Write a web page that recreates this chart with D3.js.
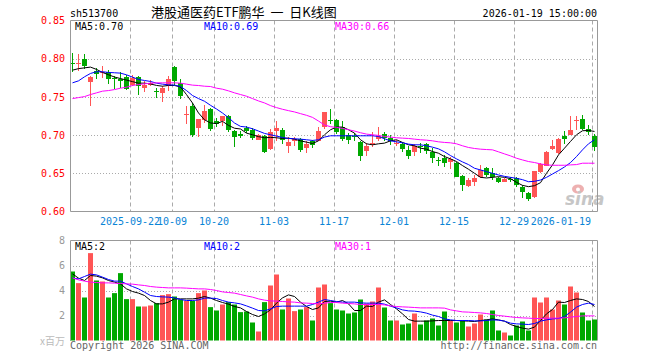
<!DOCTYPE html>
<meta charset="utf-8" />
<head>
  <script src="https://d3js.org/d3.v7.min.js"></script>
  <title>sh513700 K</title>
  <style>
    body {
      margin: 0;
      background: #fff;
    }
    text {
      font-family: "DejaVu Sans Mono", monospace;
      font-size: 10px;
    }
    .grid-h {
      stroke: #aaa;
      stroke-dasharray: 1, 2;
    }
    .grid-v {
      stroke: #aaa;
      stroke-dasharray: 4, 3;
    }
    .frame {
      fill: none;
      stroke: #999;
    }
  </style>
</head>
<body>
  <svg id="chart" width="660" height="360"></svg>
</body>

<script>
  const dates = [
    "2025-09-08", "2025-09-09", "2025-09-10", "2025-09-11", "2025-09-12",
    "2025-09-15", "2025-09-16", "2025-09-17", "2025-09-18", "2025-09-19",
    "2025-09-22", "2025-09-23", "2025-09-24", "2025-09-25", "2025-09-26",
    "2025-09-29", "2025-09-30", "2025-10-09", "2025-10-10", "2025-10-13",
    "2025-10-14", "2025-10-15", "2025-10-16", "2025-10-17", "2025-10-20",
    "2025-10-21", "2025-10-22", "2025-10-23", "2025-10-24", "2025-10-27",
    "2025-10-28", "2025-10-29", "2025-10-30", "2025-10-31", "2025-11-03",
    "2025-11-04", "2025-11-05", "2025-11-06", "2025-11-07", "2025-11-10",
    "2025-11-11", "2025-11-12", "2025-11-13", "2025-11-14", "2025-11-17",
    "2025-11-18", "2025-11-19", "2025-11-20", "2025-11-21", "2025-11-24",
    "2025-11-25", "2025-11-26", "2025-11-27", "2025-11-28", "2025-12-01",
    "2025-12-02", "2025-12-03", "2025-12-04", "2025-12-05", "2025-12-08",
    "2025-12-09", "2025-12-10", "2025-12-11", "2025-12-12", "2025-12-15",
    "2025-12-16", "2025-12-17", "2025-12-18", "2025-12-19", "2025-12-22",
    "2025-12-23", "2025-12-24", "2025-12-25", "2025-12-26", "2025-12-29",
    "2025-12-30", "2025-12-31", "2026-01-05", "2026-01-06", "2026-01-07",
    "2026-01-08", "2026-01-09", "2026-01-12", "2026-01-13", "2026-01-14",
    "2026-01-15", "2026-01-16", "2026-01-19",
  ];

  const open = [
    0.795, 0.793, 0.799, 0.770, 0.784, 0.7815, 0.783, 0.7745, 0.774, 0.776,
    0.766, 0.776, 0.761, 0.766, 0.758, 0.755, 0.764, 0.789, 0.768, 0.7275,
    0.738, 0.709, 0.720, 0.734, 0.719, 0.718, 0.7246, 0.7048, 0.7018, 0.7092,
    0.707, 0.6939, 0.699, 0.6816, 0.706, 0.707, 0.6851, 0.6917, 0.6947, 0.6829,
    0.6917, 0.6925, 0.710, 0.7202, 0.720, 0.7105, 0.6996, 0.6982, 0.6912, 0.6794,
    0.6898, 0.6952, 0.7018, 0.696, 0.689, 0.689, 0.6807, 0.6785, 0.6852, 0.6882,
    0.6785, 0.6669, 0.6697, 0.6645, 0.664, 0.6465, 0.6338, 0.639, 0.6456, 0.6566,
    0.6509, 0.6443, 0.639, 0.6423, 0.6434, 0.6325, 0.6246, 0.6193, 0.6513, 0.6601,
    0.6816, 0.6763, 0.6982, 0.7004, 0.718, 0.7215, 0.7079, 0.6991,
  ];
  const high = [
    0.808, 0.806, 0.806, 0.778, 0.788, 0.791, 0.785, 0.777, 0.783, 0.779,
    0.779, 0.777, 0.771, 0.772, 0.761, 0.764, 0.777, 0.791, 0.774, 0.738,
    0.742, 0.721, 0.739, 0.735, 0.723, 0.7254, 0.7268, 0.707, 0.7057, 0.712,
    0.709, 0.701, 0.7004, 0.7079, 0.718, 0.7088, 0.697, 0.6974, 0.696, 0.6917,
    0.6939, 0.710, 0.7307, 0.7346, 0.7215, 0.7189, 0.7026, 0.7026, 0.6925, 0.6895,
    0.704, 0.7105, 0.7044, 0.6996, 0.6939, 0.6912, 0.6851, 0.6882, 0.6895, 0.6895,
    0.6829, 0.671, 0.6741, 0.6719, 0.6654, 0.6478, 0.6434, 0.6478, 0.661, 0.6588,
    0.6566, 0.6456, 0.6434, 0.6456, 0.6456, 0.6346, 0.6259, 0.6531, 0.6632, 0.6794,
    0.6939, 0.696, 0.7048, 0.7254, 0.7254, 0.7259, 0.7136, 0.7018,
  ];
  const low = [
    0.783, 0.784, 0.786, 0.738, 0.773, 0.775, 0.767, 0.760, 0.762, 0.759,
    0.764, 0.753, 0.757, 0.764, 0.749, 0.743, 0.758, 0.766, 0.747, 0.714,
    0.697, 0.698, 0.716, 0.706, 0.710, 0.712, 0.7035, 0.685, 0.6956, 0.7026,
    0.694, 0.693, 0.6772, 0.6807, 0.6917, 0.6877, 0.6763, 0.686, 0.6785, 0.6772,
    0.6829, 0.6917, 0.7079, 0.7149, 0.7018, 0.6917, 0.6881, 0.6917, 0.6667, 0.6728,
    0.685, 0.6917, 0.6917, 0.6873, 0.686, 0.6785, 0.6689, 0.6728, 0.6763, 0.6754,
    0.664, 0.660, 0.6579, 0.6553, 0.6447, 0.6268, 0.6325, 0.6333, 0.6434, 0.6456,
    0.6412, 0.6377, 0.6382, 0.639, 0.6316, 0.6171, 0.6136, 0.618, 0.65, 0.6596,
    0.6807, 0.6754, 0.6886, 0.6996, 0.707, 0.707, 0.7004, 0.6798,
  ];
  const close = [
    0.794, 0.794, 0.790, 0.776, 0.780, 0.7825, 0.773, 0.774, 0.771, 0.760,
    0.775, 0.764, 0.766, 0.768, 0.757, 0.761, 0.774, 0.771, 0.751, 0.728,
    0.700, 0.721, 0.731, 0.708, 0.714, 0.7246, 0.707, 0.6969, 0.6982, 0.7048,
    0.6956, 0.6996, 0.678, 0.7044, 0.7088, 0.693, 0.6912, 0.6952, 0.6811, 0.689,
    0.6873, 0.7048, 0.7298, 0.720, 0.704, 0.6952, 0.693, 0.698, 0.6728, 0.686,
    0.690, 0.6982, 0.6956, 0.6917, 0.6899, 0.682, 0.6732, 0.6851, 0.685, 0.6794,
    0.6697, 0.6667, 0.6632, 0.6684, 0.6456, 0.6346, 0.6412, 0.6434, 0.6544, 0.6478,
    0.6447, 0.639, 0.6421, 0.6421, 0.6346, 0.625, 0.6162, 0.6531, 0.6618, 0.6785,
    0.6851, 0.6947, 0.6952, 0.7061, 0.7197, 0.7083, 0.7044, 0.6842,
  ];

  const ma5 = [
    0.785, 0.787, 0.788, 0.789, 0.786, 0.782, 0.779, 0.776, 0.774, 0.772,
    0.770, 0.768, 0.768, 0.767, 0.765, 0.764, 0.765, 0.765, 0.763, 0.753,
    0.742, 0.729, 0.720, 0.716, 0.715, 0.718, 0.7127, 0.709, 0.708, 0.7026,
    0.7004, 0.698, 0.6965, 0.697, 0.6965, 0.6956, 0.696, 0.6947, 0.6925, 0.6908,
    0.689, 0.6925, 0.7004, 0.707, 0.7105, 0.7105, 0.707, 0.7026, 0.6939, 0.6886,
    0.6873, 0.6886, 0.6895, 0.6925, 0.6939, 0.6904, 0.6873, 0.686, 0.6829, 0.6816,
    0.6785, 0.6763, 0.6719, 0.6689, 0.6654, 0.6601, 0.6553, 0.65, 0.6447, 0.6439,
    0.6447, 0.6456, 0.6447, 0.643, 0.6382, 0.6342, 0.6325, 0.6338, 0.6377, 0.65,
    0.661, 0.6741, 0.6829, 0.6917, 0.7004, 0.7057, 0.7061, 0.7048,
  ];
  const ma10 = [
    0.7684, 0.771, 0.7763, 0.7807, 0.7829, 0.7829, 0.782, 0.7816, 0.7811, 0.7789,
    0.7759, 0.7728, 0.7715, 0.7702, 0.768, 0.7667, 0.7658, 0.7654, 0.7636, 0.7583,
    0.7518, 0.7478, 0.7443, 0.739, 0.7342, 0.7289, 0.7228, 0.7158, 0.7114, 0.7105,
    0.7083, 0.7053, 0.7022, 0.7004, 0.6987, 0.6969, 0.6956, 0.6952, 0.6947, 0.6939,
    0.693, 0.6939, 0.6974, 0.6991, 0.6991, 0.6991, 0.6991, 0.6991, 0.6991, 0.6991,
    0.6991, 0.6982, 0.6952, 0.6925, 0.6912, 0.6899, 0.6882, 0.6873, 0.6873, 0.686,
    0.6842, 0.682, 0.6781, 0.6732, 0.6689, 0.6649, 0.6614, 0.6566, 0.6544, 0.6522,
    0.65, 0.6478, 0.646, 0.6447, 0.6434, 0.6417, 0.639, 0.6395, 0.6412, 0.6447,
    0.6491, 0.6535, 0.6583, 0.664, 0.6719, 0.6807, 0.6886, 0.6939,
  ];
  const ma30 = [
    0.7478, 0.7491, 0.7504, 0.7531, 0.7553, 0.7575, 0.7583, 0.7596, 0.7614, 0.7627,
    0.7649, 0.7662, 0.7671, 0.768, 0.7684, 0.7684, 0.7684, 0.7684, 0.768, 0.7667,
    0.7654, 0.7649, 0.764, 0.7636, 0.7614, 0.7601, 0.7579, 0.7553, 0.7531, 0.7509,
    0.7478, 0.7447, 0.7421, 0.7386, 0.736, 0.7338, 0.732, 0.7303, 0.7281, 0.7259,
    0.7232, 0.7184, 0.7132, 0.711, 0.7101, 0.7088, 0.707, 0.7053, 0.7031, 0.7013,
    0.7004, 0.6996, 0.6982, 0.6974, 0.6965, 0.696, 0.6956, 0.6947, 0.6939, 0.6934,
    0.6925, 0.6912, 0.6904, 0.6899, 0.6886, 0.686, 0.6838, 0.6825, 0.6816, 0.6811,
    0.6807, 0.6781, 0.6754, 0.6728, 0.6697, 0.6675, 0.6654, 0.6641, 0.6623, 0.661,
    0.6605, 0.6605, 0.6605, 0.661, 0.6614, 0.6632, 0.6632, 0.6632,
  ];

  // volume, millions
  const volume = [
    5.52, 4.59, 3.44, 6.99, 4.8, 4.72, 3.44, 3.79, 5.39, 3.31,
    3.31, 2.72, 2.72, 2.8, 2.99, 3.63, 3.71, 3.52, 3.28, 3.17,
    3.17, 3.79, 4.0, 2.67, 2.4, 2.88, 3.07, 2.88, 2.27, 2.32,
    1.44, 0.72, 3.07, 4.4, 5.28, 2.48, 3.36, 2.35, 2.48, 2.67,
    1.6, 4.24, 4.48, 2.99, 2.48, 2.4, 2.16, 2.24, 3.28, 2.96,
    3.12, 4.24, 2.64, 1.6, 1.6, 1.28, 1.36, 2.16, 1.28, 1.6,
    1.76, 1.2, 2.32, 1.6, 1.44, 1.6, 1.12, 1.36, 2.08, 1.68,
    2.4, 0.8, 0.64, 0.4, 1.2, 1.52, 0.8, 3.44, 3.04, 3.44,
    2.48, 3.2, 2.88, 4.32, 3.84, 2.24, 1.6, 1.68,
  ];
  const vma5 = [
    5.33, 4.99, 4.8, 5.2, 5.15, 5.01, 4.8, 4.67, 4.53, 4.13,
    3.92, 3.79, 3.6, 3.2, 2.93, 2.93, 3.07, 3.33, 3.33, 3.33,
    3.33, 3.39, 3.52, 3.39, 3.2, 3.04, 2.91, 2.72, 2.61, 2.32,
    2.08, 1.92, 2.13, 2.45, 2.99, 3.41, 3.65, 3.52, 3.07, 2.72,
    2.48, 2.61, 3.12, 3.15, 3.07, 3.2, 2.93, 2.4, 2.4, 2.75,
    2.72, 3.07, 3.25, 2.88, 2.53, 2.13, 1.68, 1.55, 1.55, 1.55,
    1.57, 1.6, 1.6, 1.6, 1.6, 1.57, 1.55, 1.52, 1.6, 1.65,
    1.73, 1.65, 1.55, 1.28, 1.12, 0.99, 0.91, 1.07, 1.6, 2.13,
    2.48, 3.07, 3.04, 3.2, 3.33, 3.28, 3.12, 2.72,
  ];
  const vma10 = [
    4.99, 4.93, 5.12, 5.31, 5.25, 5.07, 4.88, 4.75, 4.75, 4.53,
    4.32, 4.13, 3.87, 3.6, 3.52, 3.49, 3.47, 3.41, 3.28, 3.2,
    3.2, 3.25, 3.39, 3.39, 3.36, 3.2, 3.07, 3.01, 2.93, 2.77,
    2.59, 2.4, 2.37, 2.53, 2.72, 2.75, 2.75, 2.75, 2.75, 2.75,
    2.88, 3.07, 3.28, 3.2, 3.12, 3.07, 3.07, 3.07, 3.01, 2.99,
    2.99, 2.99, 2.91, 2.75, 2.61, 2.45, 2.37, 2.35, 2.29, 2.19,
    2.03, 1.92, 1.73, 1.65, 1.6, 1.6, 1.6, 1.57, 1.57, 1.6,
    1.65, 1.63, 1.55, 1.39, 1.33, 1.31, 1.28, 1.36, 1.55, 1.65,
    1.73, 1.76, 1.92, 2.27, 2.67, 2.88, 2.99, 2.88,
  ];
  const vma30 = [
    5.01, 4.85, 4.75, 4.67, 4.64, 4.61, 4.61, 4.59, 4.56, 4.53,
    4.51, 4.45, 4.4, 4.32, 4.27, 4.24, 4.21, 4.21, 4.21, 4.19,
    4.16, 4.13, 4.13, 4.08, 4.0, 3.89, 3.84, 3.79, 3.68, 3.57,
    3.47, 3.33, 3.23, 3.17, 3.15, 3.12, 3.09, 3.07, 3.01, 2.99,
    2.96, 2.93, 2.99, 3.04, 3.04, 2.99, 2.96, 2.93, 2.88, 2.88,
    2.88, 2.88, 2.85, 2.77, 2.72, 2.69, 2.67, 2.64, 2.61, 2.61,
    2.61, 2.61, 2.59, 2.45, 2.37, 2.29, 2.27, 2.24, 2.21, 2.16,
    2.08, 2.0, 1.95, 1.89, 1.84, 1.81, 1.79, 1.76, 1.76, 1.79,
    1.79, 1.79, 1.81, 1.87, 1.92, 1.97, 1.97, 1.97,
  ];

  const tickDates = [
    "2025-09-22", "2025-10-09", "2025-10-20", "2025-11-03", "2025-11-17",
    "2025-12-01", "2025-12-15", "2025-12-29", "2026-01-19",
  ];
  const tickLabels = [
    "2025-09-22", "10-09", "10-20", "11-03", "11-17",
    "12-01", "12-15", "12-29", "2026-01-19",
  ];
  const priceTicks = [0.6, 0.65, 0.7, 0.75, 0.8, 0.85];
  const priceGrid = [0.65, 0.7, 0.75, 0.8];
  const volTicks = [2, 4, 6, 8];
  const volGrid = [2, 4, 6];

  const RED = "#ff5555",
    GREEN = "#00a800",
    MA_COLORS = ["#000", "#0000ff", "#ff00ff"];

  const svg = d3.select("#chart");
  svg.append("rect").attr("width", 660).attr("height", 360).attr("fill", "#fff");

  const left = 70,
    right = 597;
  const pTop = 20.5,
    pBottom = 211.5,
    vTop = 240.5,
    vBottom = 340.5;

  const x = d3
    .scaleBand()
    .domain(dates)
    .range([left, left + dates.length * 6]);
  const mid = (d) => x(d) + 2.5;

  const y = d3.scaleLinear().domain([0.6, 0.85]).range([pBottom, pTop]);
  const yv = d3.scaleLinear().domain([0, 8]).range([vBottom, vTop]);

  const rows = dates.map((d, i) => ({
    date: d,
    o: open[i],
    h: high[i],
    l: low[i],
    c: close[i],
    v: volume[i],
  }));
  const colorOf = (r) => (r.c >= r.o ? RED : GREEN);

  // grids
  const grid = svg.append("g");
  grid
    .selectAll(".gp")
    .data(priceGrid)
    .enter()
    .append("line")
    .attr("class", "grid-h")
    .attr("x1", left)
    .attr("x2", right)
    .attr("y1", (d) => Math.round(y(d)) + 0.5)
    .attr("y2", (d) => Math.round(y(d)) + 0.5);
  grid
    .selectAll(".gv")
    .data(volGrid)
    .enter()
    .append("line")
    .attr("class", "grid-h")
    .attr("x1", left)
    .attr("x2", right)
    .attr("y1", (d) => Math.round(yv(d)) + 0.5)
    .attr("y2", (d) => Math.round(yv(d)) + 0.5);
  [
    [pTop, pBottom],
    [vTop, vBottom],
  ].forEach(([t, b]) => {
    grid
      .append("g")
      .selectAll("line")
      .data(tickDates)
      .enter()
      .append("line")
      .attr("class", "grid-v")
      .attr("x1", (d) => x(d) + 0.5)
      .attr("x2", (d) => x(d) + 0.5)
      .attr("y1", t)
      .attr("y2", b);
  });

  // sina mark
  const logo = svg.append("g").attr("opacity", 0.55);
  logo
    .append("ellipse")
    .attr("cx", 578)
    .attr("cy", 189)
    .attr("rx", 6)
    .attr("ry", 4.5)
    .attr("fill", "#e07070");
  logo
    .append("circle")
    .attr("cx", 578)
    .attr("cy", 189.5)
    .attr("r", 2)
    .attr("fill", "#fff");
  logo
    .append("text")
    .attr("x", 565)
    .attr("y", 205)
    .style("font", "italic bold 17px 'DejaVu Sans'")
    .attr("fill", "#999")
    .text("sina");

  // candles
  const candles = svg.append("g");
  candles
    .selectAll(".wick")
    .data(rows)
    .enter()
    .append("rect")
    .attr("x", (d) => x(d.date) + 2)
    .attr("width", 1)
    .attr("y", (d) => Math.round(y(d.h)))
    .attr("height", (d) => Math.max(1, Math.round(y(d.l)) - Math.round(y(d.h))))
    .attr("fill", colorOf);
  candles
    .selectAll(".body")
    .data(rows)
    .enter()
    .append("rect")
    .attr("x", (d) => x(d.date))
    .attr("width", 5)
    .attr("y", (d) => Math.round(y(Math.max(d.o, d.c))))
    .attr("height", (d) =>
      Math.max(1, Math.round(y(Math.min(d.o, d.c))) - Math.round(y(Math.max(d.o, d.c))))
    )
    .attr("fill", colorOf);

  // volume bars
  svg
    .append("g")
    .selectAll("rect")
    .data(rows)
    .enter()
    .append("rect")
    .attr("x", (d) => x(d.date))
    .attr("width", 5)
    .attr("y", (d) => yv(d.v))
    .attr("height", (d) => yv(0) - yv(d.v))
    .attr("fill", colorOf);

  // moving averages
  const drawLines = (series, scale) => {
    const line = d3
      .line()
      .x((v, i) => mid(dates[i]))
      .y((v) => scale(v));
    svg
      .append("g")
      .selectAll("path")
      .data(series)
      .enter()
      .append("path")
      .attr("fill", "none")
      .attr("stroke-width", 1)
      .attr("stroke", (s, i) => MA_COLORS[i])
      .attr("d", (s) => line(s));
  };
  drawLines([ma5, ma10, ma30], y);
  drawLines([vma5, vma10, vma30], yv);

  // frames
  svg
    .append("path")
    .attr("class", "frame")
    .attr("d", `M${left + 0.5},${pTop}H${right + 0.5}V${pBottom}H${left + 0.5}Z`);
  svg
    .append("path")
    .attr("class", "frame")
    .attr("d", `M${left + 0.5},${vBottom}V${vTop}H${right + 0.5}V${vBottom}`);

  // axes
  svg
    .append("g")
    .attr("transform", `translate(${left},0)`)
    .call(
      d3
        .axisLeft(y)
        .tickValues(priceTicks)
        .tickSize(0)
        .tickPadding(5)
        .tickFormat(d3.format(".2f"))
    )
    .call((g) => g.select(".domain").remove())
    .selectAll("text")
    .attr("fill", "#f00")
    .style("font-family", "DejaVu Sans Mono");

  svg
    .append("g")
    .attr("transform", `translate(${left},0)`)
    .call(d3.axisLeft(yv).tickValues(volTicks).tickSize(0).tickPadding(5))
    .call((g) => g.select(".domain").remove())
    .selectAll("text")
    .attr("fill", "#999")
    .style("font-family", "DejaVu Sans Mono");

  // date labels: first ones overlap just like the source chart
  svg
    .append("g")
    .selectAll("text")
    .data(tickDates)
    .enter()
    .append("text")
    .attr("x", (d, i) => (i === tickDates.length - 1 ? x(d) - 1 : x(d)))
    .attr("y", 225)
    .attr("text-anchor", (d, i) => (i === tickDates.length - 1 ? "end" : "middle"))
    .attr("fill", "#0a84d6")
    .text((d, i) => tickLabels[i]);

  // header
  svg.append("text").attr("x", 70).attr("y", 16.5).text("sh513700");
  svg
    .append("text")
    .attr("x", 151)
    .attr("y", 17)
    .style("font-family", "'Noto Sans CJK SC'")
    .style("font-size", "13px")
    .text("港股通医药ETF鹏华\u00a0\u00a0一\u00a0\u00a0日K线图");
  svg
    .append("text")
    .attr("x", 597)
    .attr("y", 16.5)
    .attr("text-anchor", "end")
    .text("2026-01-19 15:00:00");

  // MA legends
  const legendX = [75, 204, 335];
  const priceLegend = ["MA5:0.70", "MA10:0.69", "MA30:0.66"];
  const volLegend = ["MA5:2", "MA10:2", "MA30:1"];
  [
    [priceLegend, 29.5],
    [volLegend, 249.5],
  ].forEach(([labels, yy]) => {
    svg
      .append("g")
      .selectAll("text")
      .data(labels)
      .enter()
      .append("text")
      .attr("x", (d, i) => legendX[i])
      .attr("y", yy)
      .attr("fill", (d, i) => MA_COLORS[i])
      .text((d) => d);
  });

  // footer
  svg
    .append("text")
    .attr("x", 65)
    .attr("y", 344.5)
    .attr("text-anchor", "end")
    .attr("fill", "#bbb")
    .style("font-family", "'Noto Sans CJK SC'")
    .text("x百万");
  svg
    .append("text")
    .attr("x", 70)
    .attr("y", 348.5)
    .attr("fill", "#666")
    .text("Copyright 2026 SINA.COM");
  svg
    .append("text")
    .attr("x", 597)
    .attr("y", 348.5)
    .attr("text-anchor", "end")
    .attr("fill", "#666")
    .text("http://finance.sina.com.cn");
</script>
